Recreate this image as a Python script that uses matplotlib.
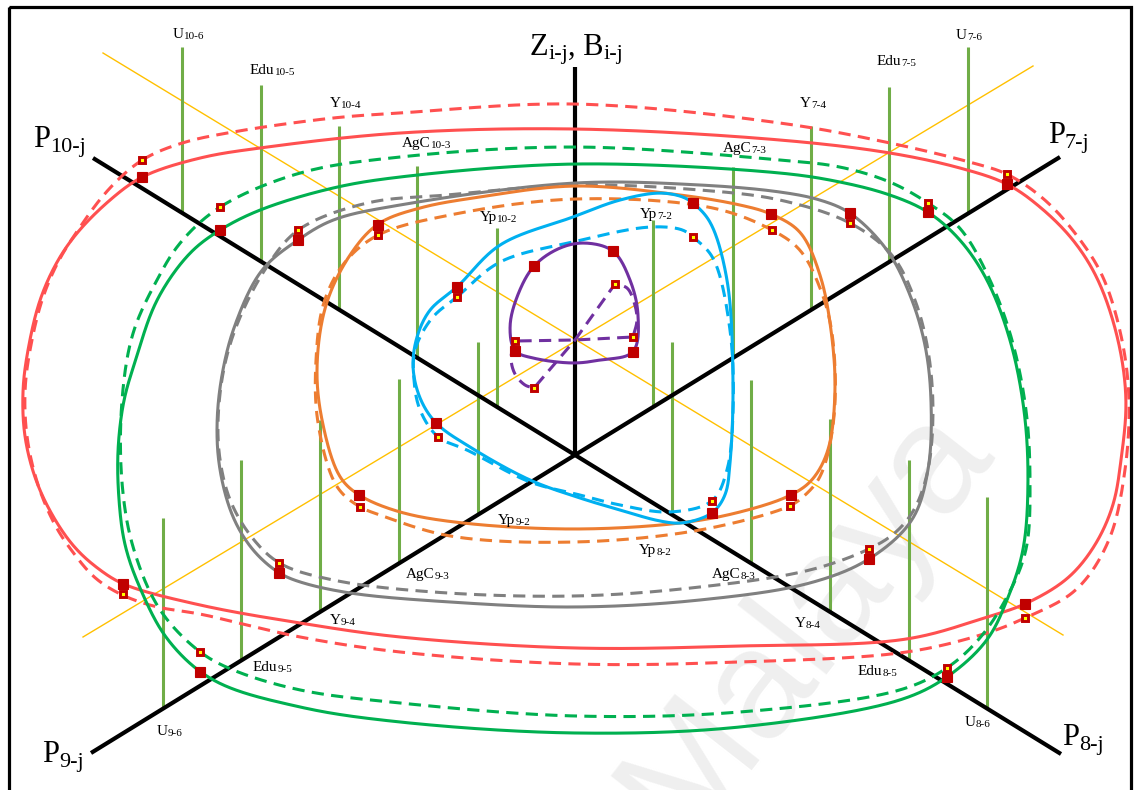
import numpy as np
import matplotlib
matplotlib.use('Agg')
import matplotlib.pyplot as plt
from matplotlib.transforms import offset_copy
from matplotlib.patches import Rectangle

# ---- frame of the drawing (pixel-like units, y grows downward) ----
hub = (575, 455)          # where the four P axes meet
hub2 = (575, 340)         # crossing of the two thin guide lines
z_top = 67

axis_names = ['7', '8', '9', '10']
axis_tip_x = [1060, 1061, 91, 93]
axis_tip_y = [157, 754, 753, 158]

guide_a = [(103, 53), (1063, 635)]
guide_b = [(1033, 66), (83, 637)]

# ---- vertical bars on each axis: Yp, AgC, Y, Edu, U ----
bar_names = ['Yp', 'AgC', 'Y', 'Edu', 'U']
bar_index = [2, 3, 4, 5, 6]
bar_offset_upper = [78, 158, 236, 314, 393]
bar_offset_lower = [97, 176, 255, 334, 412]
bar_height_p7 = [187, 191, 184, 175, 167]
bar_height_p8 = [173, 183, 193, 200, 211]
bar_height_p9 = [173, 184, 192, 201, 191]
bar_height_p10 = [179, 192, 184, 177, 166]

# ---- closed curves: solid / dashed pairs ----
red_solid = [(142, 177), (200, 158), (260, 148), (400, 133), (575, 129), (780, 140),
             (890, 153), (960, 168), (1007, 184), (1040, 207), (1073, 240), (1098, 280),
             (1118, 340), (1126, 400), (1121, 460), (1113, 505), (1095, 545), (1068, 578),
             (1025, 604), (987, 617), (907, 639), (740, 646), (575, 648), (400, 637),
             (300, 623), (200, 605), (123, 584), (100, 570), (77, 550), (57, 523),
             (37, 483), (25, 437), (23, 390), (28, 350), (40, 300), (57, 262),
             (77, 233), (110, 200)]
red_dashed = [(142, 160), (182, 143), (233, 132), (333, 118), (400, 113), (575, 104),
              (780, 123), (890, 143), (973, 163), (1007, 174), (1045, 200), (1078, 237),
              (1103, 277), (1122, 340), (1129, 400), (1125, 470), (1109, 540), (1076, 590),
              (1025, 618), (987, 633), (907, 652), (740, 662), (575, 664), (400, 652),
              (300, 637), (200, 614), (157, 607), (122, 595), (95, 578), (75, 555),
              (56, 527), (38, 485), (27, 437), (25, 390), (30, 350), (42, 300),
              (58, 262), (78, 230), (108, 190)]
green_solid = [(220, 230), (260, 210), (333, 188), (400, 177), (575, 164), (780, 173),
               (840, 182), (890, 195), (928, 212), (960, 240), (987, 280), (1010, 340),
               (1024, 410), (1028, 480), (1023, 550), (1007, 600), (987, 640), (947, 677),
               (900, 700), (740, 727), (575, 733), (400, 722), (300, 707), (213, 680),
               (168, 640), (140, 588), (125, 545), (119, 500), (118, 450), (124, 400),
               (135, 362), (157, 300), (190, 253)]
green_dashed = [(220, 207), (300, 173), (400, 157), (575, 147), (780, 160), (840, 167),
                (890, 182), (928, 203), (960, 228), (990, 280), (1012, 340), (1026, 410),
                (1030, 480), (1026, 550), (1007, 597), (980, 638), (947, 668), (900, 690),
                (740, 712), (575, 716), (400, 703), (300, 690), (233, 670), (200, 652),
                (160, 610), (133, 547), (122, 483), (122, 400), (133, 333), (157, 280),
                (180, 243)]
gray_solid = [(298, 240), (333, 220), (400, 205), (575, 183), (700, 185), (780, 192),
              (820, 200), (850, 213), (887, 250), (910, 295), (925, 345), (931, 400),
              (928, 470), (912, 520), (869, 559), (810, 583), (700, 600), (575, 607),
              (450, 602), (350, 593), (300, 582), (279, 573), (253, 550), (233, 517),
              (220, 470), (217, 425), (222, 375), (235, 325), (262, 270)]
gray_dashed = [(298, 230), (367, 203), (447, 195), (575, 185), (700, 190), (780, 200),
               (850, 223), (892, 255), (915, 300), (928, 350), (933, 410), (928, 470),
               (914, 510), (895, 533), (869, 549), (810, 570), (700, 587), (575, 596),
               (433, 592), (333, 580), (279, 563), (250, 535), (230, 500), (220, 460),
               (218, 420), (224, 368), (238, 322), (266, 268)]
orange_solid = [(378, 224), (420, 208), (480, 197), (575, 186), (680, 195), (740, 205),
                (771, 214), (800, 232), (820, 275), (831, 330), (835, 390), (828, 450),
                (812, 480), (791, 495), (740, 512), (680, 523), (575, 529), (463, 523),
                (400, 512), (359, 495), (340, 477), (322, 420), (317, 367), (326, 305),
                (350, 255)]
orange_dashed = [(378, 235), (450, 215), (575, 199), (713, 208), (772, 230), (800, 250),
                 (820, 288), (832, 333), (834, 417), (820, 477), (803, 497), (790, 506),
                 (700, 530), (575, 542), (450, 536), (380, 515), (360, 507), (337, 487),
                 (318, 423), (316, 360), (324, 302), (345, 262)]
blue_solid = [(457, 287), (500, 245), (573, 217), (620, 200), (660, 193), (683, 197),
              (693, 203), (710, 222), (727, 280), (733, 380), (730, 463), (725, 495),
              (712, 513), (682, 523), (660, 521), (620, 510), (580, 498), (530, 480),
              (470, 447), (436, 423), (420, 398), (413, 367), (417, 337), (430, 310)]
blue_dashed = [(457, 297), (500, 262), (573, 242), (650, 227), (683, 230), (693, 237),
               (713, 258), (730, 330), (733, 413), (727, 470), (712, 501), (670, 512),
               (620, 505), (580, 495), (530, 482), (467, 450), (438, 437),
               (420, 410), (414, 380), (415, 350), (432, 318)]
purple_solid = [(515, 351), (510, 327), (517, 297), (534, 266), (560, 248), (585, 243),
                (613, 251), (630, 280), (638, 315), (633, 352), (600, 360), (573, 363),
                (533, 358)]
purple_lobe_upper = [(615, 284), (627, 288), (634, 302), (637, 320), (633, 337)]
purple_lobe_lower = [(515, 341), (511, 358), (515, 374), (525, 385), (534, 388)]

# ---- corner markers of each curve ----
solid_marks = [(142, 177), (1007, 184), (1025, 604), (123, 584),
               (220, 230), (928, 212), (947, 677), (200, 672),
               (298, 240), (850, 213), (869, 559), (279, 573),
               (378, 225), (771, 214), (791, 495), (359, 495),
               (457, 287), (693, 203), (712, 513), (436, 423),
               (534, 266), (613, 251), (633, 352), (515, 351)]
dashed_marks = [(142, 160), (1007, 174), (1025, 618), (123, 594),
                (220, 207), (928, 203), (947, 668), (200, 652),
                (298, 230), (850, 223), (869, 549), (279, 563),
                (378, 235), (772, 230), (790, 506), (360, 507),
                (457, 297), (693, 237), (712, 501), (438, 437),
                (615, 284), (633, 337), (534, 388), (515, 341)]

# label anchors (left, baseline) in bar order Yp, AgC, Y, Edu, U
label_pos = {
    '10': [(480, 221), (402, 147), (330, 107), (250, 74), (173, 38)],
    '7': [(640, 218), (723, 152), (800, 107), (877, 65), (956, 39)],
    '9': [(498, 524), (406, 578), (330, 624), (253, 671), (157, 735)],
    '8': [(639, 554), (712, 578), (795, 627), (858, 675), (965, 726)],
}

RED = '#FF5050'
GREEN = '#00B050'
GRAY = '#808080'
ORANGE = '#ED7D31'
BLUE = '#00B0F0'
PURPLE = '#7030A0'
BAR = '#70AD47'
GUIDE = '#FFC000'
MARK = '#C00000'
SERIF = ['Liberation Serif', 'DejaVu Serif']


def catmull(pts, n=24, closed=True):
    P = np.asarray(pts, float)
    if closed:
        P = np.vstack([P[-1], P, P[0], P[1]])
    else:
        P = np.vstack([2 * P[0] - P[1], P, 2 * P[-1] - P[-2]])
    out = []
    for i in range(1, len(P) - 2):
        p0, p1, p2, p3 = P[i - 1], P[i], P[i + 1], P[i + 2]
        t0 = 0.0
        t1 = t0 + np.linalg.norm(p1 - p0) ** 0.5
        t2 = t1 + np.linalg.norm(p2 - p1) ** 0.5
        t3 = t2 + np.linalg.norm(p3 - p2) ** 0.5
        t = np.linspace(t1, t2, n, endpoint=False)[:, None]
        a1 = (t1 - t) / (t1 - t0) * p0 + (t - t0) / (t1 - t0) * p1
        a2 = (t2 - t) / (t2 - t1) * p1 + (t - t1) / (t2 - t1) * p2
        a3 = (t3 - t) / (t3 - t2) * p2 + (t - t2) / (t3 - t2) * p3
        b1 = (t2 - t) / (t2 - t0) * a1 + (t - t0) / (t2 - t0) * a2
        b2 = (t3 - t) / (t3 - t1) * a2 + (t - t1) / (t3 - t1) * a3
        out.append((t2 - t) / (t2 - t1) * b1 + (t - t1) / (t2 - t1) * b2)
    out.append(P[-2:-1] if not closed else P[1:2])
    return np.vstack(out)


def smooth_loop(pts, sigma=6.0, step=1.5):
    # spline, resample evenly along the arc, then a circular gaussian blur
    c = catmull(pts)
    seg = np.hypot(*np.diff(c, axis=0).T)
    s = np.concatenate([[0], np.cumsum(seg)])
    u = np.arange(0, s[-1], step)
    x = np.interp(u, s, c[:, 0])
    y = np.interp(u, s, c[:, 1])
    k = int(3 * sigma / step)
    w = np.exp(-0.5 * (np.arange(-k, k + 1) * step / sigma) ** 2)
    w /= w.sum()
    xs = np.convolve(np.concatenate([x[-k:], x, x[:k]]), w, mode='valid')
    ys = np.convolve(np.concatenate([y[-k:], y, y[:k]]), w, mode='valid')
    return np.append(xs, xs[0]), np.append(ys, ys[0])


fig = plt.figure(figsize=(11.38, 7.90), dpi=100)
ax = fig.add_axes([0, 0, 1, 1])
ax.set_xlim(0, 1138)
ax.set_ylim(790, 0)
ax.axis('off')


def sub_text(x, y, pieces, size, subsize, drop, z=8):
    r = fig.canvas.get_renderer()
    cur = 0.0
    for txt, is_sub in pieces:
        tr = offset_copy(ax.transData, fig=fig, x=cur * 72 / fig.dpi,
                         y=-drop if is_sub else 0, units='points')
        t = ax.text(x, y, txt, fontsize=subsize if is_sub else size, family=SERIF,
                    ha='left', va='baseline', transform=tr, zorder=z)
        cur += t.get_window_extent(r).width


# faint watermark
ax.text(805, 620, 'Malaya', rotation=52, fontsize=112, color='#efefef',
        family=['Liberation Sans', 'DejaVu Sans'], ha='center', va='center', zorder=0)

# frame
ax.add_patch(Rectangle((9, 7), 1122, 800, fill=False, ec='black', lw=2.3, zorder=9))

# thin guide lines
for g in (guide_a, guide_b):
    ax.plot([g[0][0], g[1][0]], [g[0][1], g[1][1]], color=GUIDE, lw=1.0, zorder=1)

# black axes
ax.plot([hub[0], hub[0]], [hub[1], z_top], color='black', lw=3.0, zorder=4,
        solid_capstyle='butt')
for tx, ty in zip(axis_tip_x, axis_tip_y):
    ax.plot([hub[0], tx], [hub[1], ty], color='black', lw=3.0, zorder=4,
            solid_capstyle='butt')

# green bars standing on the axes
bar_heights = {'7': bar_height_p7, '8': bar_height_p8, '9': bar_height_p9, '10': bar_height_p10}
for name, tx, ty in zip(axis_names, axis_tip_x, axis_tip_y):
    slope = (ty - hub[1]) / (tx - hub[0])
    side = 1 if tx > hub[0] else -1
    offs = bar_offset_upper if ty < hub[1] else bar_offset_lower
    for k, (off, h) in enumerate(zip(offs, bar_heights[name])):
        bx = hub[0] + side * off
        by = hub[1] + slope * (bx - hub[0])
        ax.plot([bx, bx], [by, by - h], color=BAR, lw=2.2, zorder=2, solid_capstyle='butt')
        lx, ly = label_pos[name][k]
        sub_text(lx, ly, [(bar_names[k], False), ('%s-%d' % (name, bar_index[k]), True)],
                 11, 8, 0.6)

# closed curves
pairs = [(red_solid, red_dashed, RED, 7.0), (green_solid, green_dashed, GREEN, 7.0),
         (gray_solid, gray_dashed, GRAY, 6.0), (orange_solid, orange_dashed, ORANGE, 5.0),
         (blue_solid, blue_dashed, BLUE, 3.5)]
for solid, dashed, col, sg in pairs:
    x, y = smooth_loop(solid, sg)
    ax.plot(x, y, color=col, lw=2.2, zorder=5)
    x, y = smooth_loop(dashed, sg)
    ax.plot(x, y, color=col, lw=2.2, zorder=5, dashes=(4, 2.4))

x, y = smooth_loop(purple_solid, 3.0)
ax.plot(x, y, color=PURPLE, lw=2.2, zorder=5)
up = catmull(purple_lobe_upper, closed=False)
lo = catmull(purple_lobe_lower, closed=False)
prop = np.vstack([[hub2], up, [hub2], lo, [hub2]])
ax.plot(prop[:, 0], prop[:, 1], color=PURPLE, lw=2.2, zorder=5, dashes=(4, 2.4))

# corner markers
sx, sy = zip(*solid_marks)
ax.plot(sx, sy, 's', ms=6.5, mfc=MARK, mec=MARK, mew=0.8, zorder=6, ls='none')
dx, dy = zip(*dashed_marks)
ax.plot(dx, dy, 's', ms=4.5, mfc='#FFFF00', mec=MARK, mew=2.1, zorder=6, ls='none')

# axis titles
sub_text(33, 147, [('P', False), ('10-j', True)], 22, 16, 3.5)
sub_text(1048, 143, [('P', False), ('7-j', True)], 22, 16, 3.5)
sub_text(42, 762, [('P', False), ('9-j', True)], 22, 16, 3.5)
sub_text(1062, 745, [('P', False), ('8-j', True)], 22, 16, 3.5)
sub_text(530, 55, [('Z', False), ('i-j', True), (', B', False), ('i-j', True)], 22, 16, 3.0)

fig.savefig('out.png', dpi=100)
